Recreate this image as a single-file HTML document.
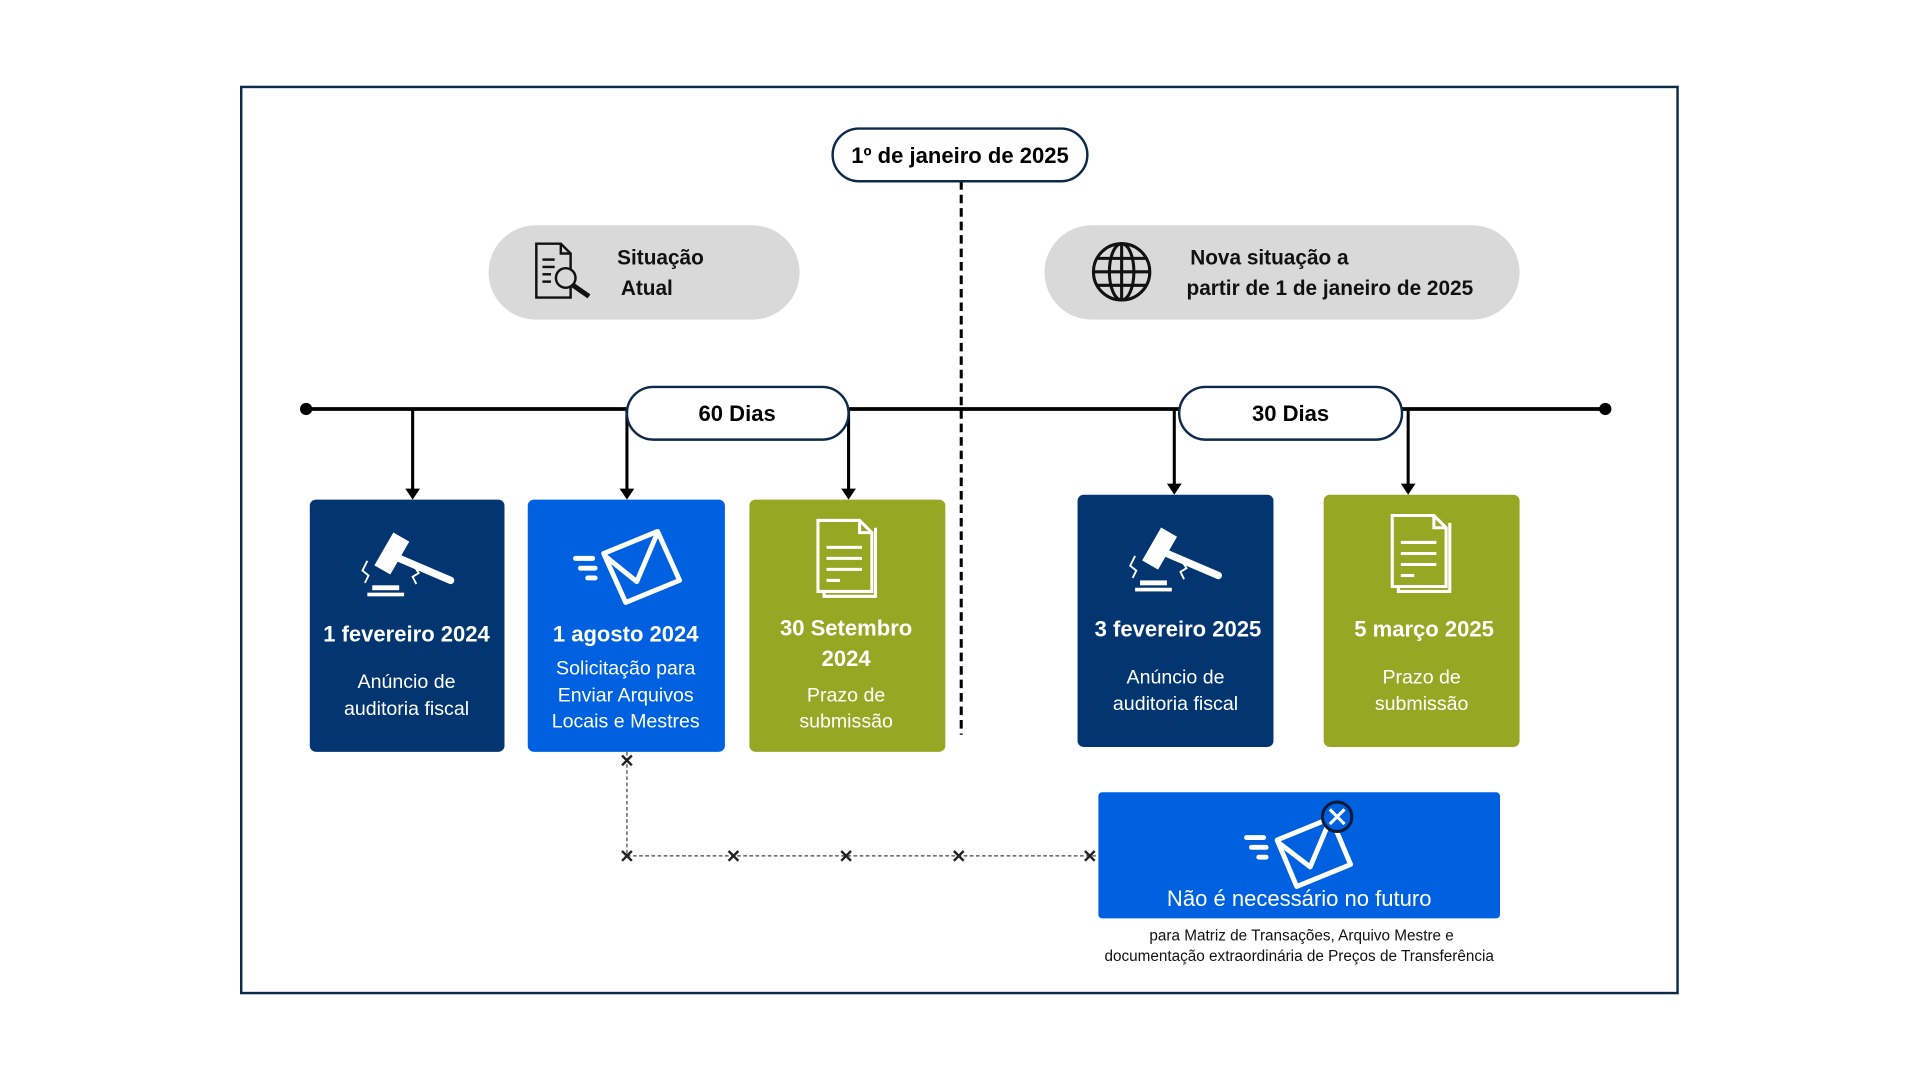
<!DOCTYPE html>
<html><head><meta charset="utf-8"><style>
html,body{margin:0;padding:0;background:#fff;width:1920px;height:1080px;overflow:hidden}
text{font-family:"Liberation Sans",sans-serif}
.b{font-weight:bold}
</style></head><body>
<svg width="1920" height="1080" viewBox="0 0 1568 882" xmlns="http://www.w3.org/2000/svg">
<rect x="197" y="71" width="1173" height="740" fill="#fff" stroke="#0d2a4a" stroke-width="2"/>
<!-- dashed vertical -->
<line x1="785" y1="148" x2="785" y2="600" stroke="#000" stroke-width="2.5" stroke-dasharray="7,4"/>
<rect x="680" y="105" width="208" height="43" rx="21.5" fill="#fff" stroke="#0d2a4a" stroke-width="2"/>
<text x="784" y="133" text-anchor="middle" font-size="18" class="b" fill="#000">1º de janeiro de 2025</text>
<!-- gray pills -->
<rect x="399" y="184" width="254" height="77" rx="38.5" fill="#d9d9d9"/>
<text x="504" y="216" font-size="17" class="b" fill="#111">Situação</text>
<text x="507" y="241" font-size="17" class="b" fill="#111">Atual</text>
<g fill="none" stroke="#111" stroke-width="2">
<path d="M438 199h20l8 8v36h-28z"/><path d="M458 199v8h8"/>
<line x1="443" y1="212" x2="453" y2="212"/><line x1="443" y1="218" x2="453" y2="218"/><line x1="443" y1="224" x2="450" y2="224"/><line x1="443" y1="230" x2="450" y2="230"/>
<circle cx="462" cy="227" r="8" fill="#d9d9d9"/><line x1="468" y1="233" x2="481" y2="242" stroke-width="4"/>
</g>
<rect x="853" y="184" width="388" height="77" rx="38.5" fill="#d9d9d9"/>
<text x="972" y="216" font-size="17" class="b" fill="#111">Nova situação a</text>
<text x="969" y="241" font-size="17" class="b" fill="#111">partir de 1 de janeiro de 2025</text>
<g fill="none" stroke="#111" stroke-width="2.5">
<circle cx="916" cy="222" r="23"/><ellipse cx="916" cy="222" rx="10" ry="23"/><line x1="916" y1="199" x2="916" y2="245"/>
<line x1="893" y1="222" x2="939" y2="222"/><line x1="896" y1="211" x2="936" y2="211"/><line x1="896" y1="233" x2="936" y2="233"/>
</g>
<!-- timeline -->
<line x1="250" y1="334" x2="1311" y2="334" stroke="#000" stroke-width="3"/>
<circle cx="250" cy="334" r="5"/><circle cx="1311" cy="334" r="5"/>
<g stroke="#000" stroke-width="2.5">
<line x1="337" y1="334" x2="337" y2="400"/><line x1="512" y1="334" x2="512" y2="400"/><line x1="693" y1="334" x2="693" y2="400"/>
<line x1="959" y1="334" x2="959" y2="396"/><line x1="1150" y1="334" x2="1150" y2="396"/>
</g>
<g fill="#000">
<path d="M331 399h12l-6 9z"/><path d="M506 399h12l-6 9z"/><path d="M687 399h12l-6 9z"/><path d="M953 395h12l-6 9z"/><path d="M1144 395h12l-6 9z"/>
</g>
<rect x="512" y="316" width="181" height="43" rx="21.5" fill="#fff" stroke="#0d2a4a" stroke-width="2"/>
<text x="602" y="344" text-anchor="middle" font-size="18" class="b">60 Dias</text>
<rect x="963" y="316" width="182" height="43" rx="21.5" fill="#fff" stroke="#0d2a4a" stroke-width="2"/>
<text x="1054" y="344" text-anchor="middle" font-size="18" class="b">30 Dias</text>
<!-- boxes -->
<rect x="253" y="408" width="159" height="206" rx="5" fill="#033670"/>
<rect x="431" y="408" width="161" height="206" rx="5" fill="#0061e0"/>
<rect x="612" y="408" width="160" height="206" rx="5" fill="#96a823"/>
<rect x="880" y="404" width="160" height="206" rx="5" fill="#033670"/>
<rect x="1081" y="404" width="160" height="206" rx="5" fill="#96a823"/>
<!-- gavel icons -->
<g id="gv" fill="#fff" stroke="#fff">
<g transform="translate(0,0)">
<rect x="313" y="437" width="14" height="30" transform="rotate(30 320 452)"/>
<line x1="326" y1="456" x2="368" y2="474" stroke-width="6" stroke-linecap="round"/>
<rect x="304" y="478" width="22" height="4" stroke="none"/><rect x="300" y="484" width="30" height="3" stroke="none"/>
<path d="M300 458l-4 8 5 4-3 6M338 462l4 6-5 3 3 6" fill="none" stroke-width="1.5"/>
</g></g>
<use href="#gv" transform="translate(627,-4)"/>
<!-- envelope icon -->
<g fill="none" stroke="#fff" stroke-width="4" stroke-linejoin="round" stroke-linecap="round">
<path d="M493 452l44-18 18 40-44 18z"/><path d="M494 454l26 21 17-40"/>
<line x1="470" y1="456" x2="484" y2="456"/><line x1="474" y1="464" x2="486" y2="464"/><line x1="480" y1="472" x2="486" y2="472"/>
</g>
<!-- doc icons -->
<g id="dc" fill="none" stroke="#fff" stroke-width="2.5">
<path d="M673 431v56h42v-56"/><path d="M668 425h34l10 10v48h-44z" fill="#96a823"/><path d="M702 425v10h10"/>
<line x1="675" y1="447" x2="704" y2="447"/><line x1="675" y1="456" x2="704" y2="456"/><line x1="675" y1="465" x2="704" y2="465"/><line x1="675" y1="474" x2="686" y2="474"/>
</g>
<use href="#dc" transform="translate(469,-4)"/>
<g fill="#fff" text-anchor="middle">
<text x="332" y="524" font-size="18" class="b">1 fevereiro 2024</text>
<text x="332" y="562" font-size="16">Anúncio de</text><text x="332" y="584" font-size="16">auditoria fiscal</text>
<text x="511" y="524" font-size="18" class="b">1 agosto 2024</text>
<text x="511" y="551" font-size="16">Solicitação para</text><text x="511" y="573" font-size="16">Enviar Arquivos</text><text x="511" y="594" font-size="16">Locais e Mestres</text>
<text x="691" y="519" font-size="18" class="b">30 Setembro</text><text x="691" y="544" font-size="18" class="b">2024</text>
<text x="691" y="573" font-size="16">Prazo de</text><text x="691" y="594" font-size="16">submissão</text>
<text x="962" y="520" font-size="18" class="b">3 fevereiro 2025</text>
<text x="960" y="558" font-size="16">Anúncio de</text><text x="960" y="580" font-size="16">auditoria fiscal</text>
<text x="1163" y="520" font-size="18" class="b">5 março 2025</text>
<text x="1161" y="558" font-size="16">Prazo de</text><text x="1161" y="580" font-size="16">submissão</text>
</g>
<!-- dotted connector -->
<path d="M512 614V699H897" fill="none" stroke="#444" stroke-width="1" stroke-dasharray="3,2"/>
<g stroke="#222" stroke-width="2">
<path d="M508 617l8 8M516 617l-8 8"/><path d="M508 695l8 8M516 695l-8 8"/><path d="M595 695l8 8M603 695l-8 8"/>
<path d="M687 695l8 8M695 695l-8 8"/><path d="M779 695l8 8M787 695l-8 8"/><path d="M886 695l8 8M894 695l-8 8"/>
</g>
<rect x="897" y="647" width="328" height="103" rx="3" fill="#0061e0"/>
<g fill="none" stroke="#fff" stroke-width="4" stroke-linejoin="round" stroke-linecap="round">
<path d="M1043 686l44-18 16 38-44 18z"/><path d="M1044 688l26 20 16-38"/>
<line x1="1018" y1="684" x2="1032" y2="684"/><line x1="1022" y1="692" x2="1034" y2="692"/><line x1="1028" y1="700" x2="1034" y2="700"/>
</g>
<circle cx="1092" cy="667" r="12" fill="#0061e0" stroke="#0d1a3a" stroke-width="2.5"/>
<path d="M1086 661l12 12M1098 661l-12 12" stroke="#fff" stroke-width="2.5"/>
<text x="1061" y="740" text-anchor="middle" font-size="18" fill="#fff">Não é necessário no futuro</text>
<text x="1063" y="768" text-anchor="middle" font-size="12.5" fill="#111">para Matriz de Transações, Arquivo Mestre e</text>
<text x="1061" y="785" text-anchor="middle" font-size="12.5" fill="#111">documentação extraordinária de Preços de Transferência</text>
</svg>
</body></html>
